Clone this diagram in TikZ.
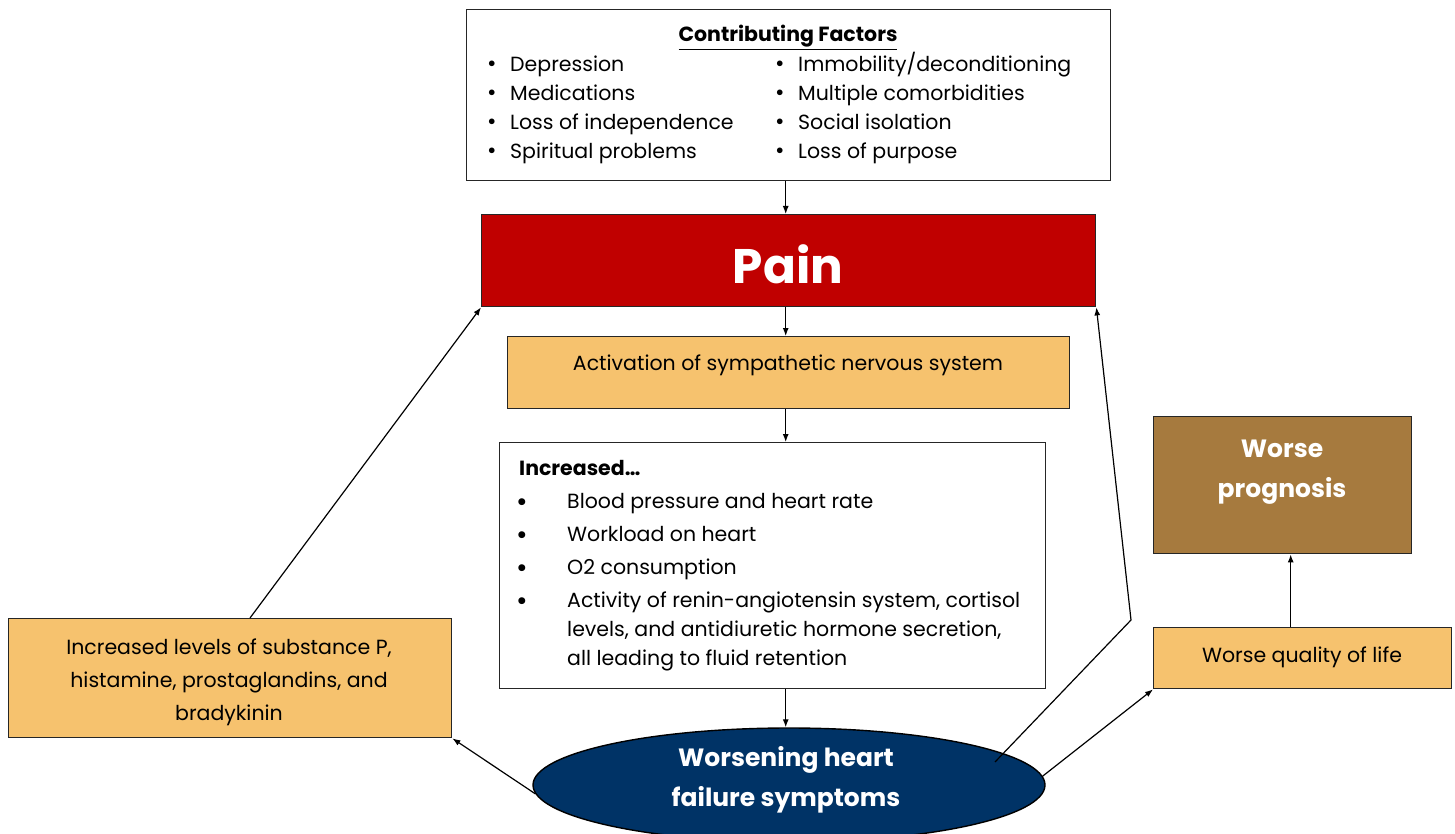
\documentclass[tikz,border=0pt]{standalone}
\usepackage{fontspec}
\setmainfont{Poppins}
\usetikzlibrary{shapes.geometric,arrows.meta,calc}
\definecolor{painred}{RGB}{192,0,0}
\definecolor{boxorange}{RGB}{246,194,110}
\definecolor{hfnavy}{RGB}{0,51,102}
\definecolor{progbrown}{RGB}{166,122,62}
\newcommand{\bodyfont}{\fontsize{20.5}{24}\selectfont}
\begin{document}
\begin{tikzpicture}[x=1pt,y=-1pt,
  box/.style={draw=black!85, line width=1.4pt, inner sep=0pt, anchor=north west},
  conn/.style={line width=1.2pt, -{Latex[length=8pt,width=6pt]}},
  txt/.style={font=\bodyfont, inner sep=0pt, anchor=base west},
  ctxt/.style={font=\bodyfont, inner sep=0pt, anchor=base},
  btxt/.style={font=\fontsize{25}{29}\selectfont\bfseries, text=white, inner sep=0pt, anchor=base}]
\useasboundingbox (0,0) rectangle (1455,834);
% boxes
\node[box, fill=white, minimum width=644pt, minimum height=171pt] (cf) at (466,9) {};
\node[box, fill=painred, minimum width=614pt, minimum height=92pt] (pain) at (481,214) {};
\node[box, fill=boxorange, minimum width=562pt, minimum height=72pt] (act) at (507,336) {};
\node[box, fill=white, minimum width=546pt, minimum height=246pt] (inc) at (499,442) {};
\node[box, fill=boxorange, minimum width=443pt, minimum height=119pt] (lft) at (8,618) {};
\node[box, fill=boxorange, minimum width=298pt, minimum height=61pt] (qol) at (1153,627) {};
\node[box, fill=progbrown, minimum width=258pt, minimum height=137pt] (prog) at (1153,416) {};
\node[draw=black, line width=1.4pt, fill=hfnavy, ellipse, minimum width=512pt, minimum height=114pt, inner sep=0pt] (hf) at (789,785) {};
% contributing factors text
\node[ctxt, font=\bodyfont\bfseries] (cftitle) at (788,42) {\underline{Contributing Factors}};
\node[txt, font=\fontsize{23}{24}\selectfont] (b1) at (487,72) {\textbullet};
\node[txt, font=\fontsize{23}{24}\selectfont] (b2) at (487,101) {\textbullet};
\node[txt, font=\fontsize{23}{24}\selectfont] (b3) at (487,130) {\textbullet};
\node[txt, font=\fontsize{23}{24}\selectfont] (b4) at (487,159) {\textbullet};
\node[txt, font=\fontsize{23}{24}\selectfont] (b5) at (775,72) {\textbullet};
\node[txt, font=\fontsize{23}{24}\selectfont] (b6) at (775,101) {\textbullet};
\node[txt, font=\fontsize{23}{24}\selectfont] (b7) at (775,130) {\textbullet};
\node[txt, font=\fontsize{23}{24}\selectfont] (b8) at (775,159) {\textbullet};
\node[txt] (f1) at (510,72) {Depression};
\node[txt] (f2) at (510,101) {Medications};
\node[txt] (f3) at (510,130) {Loss of independence};
\node[txt] (f4) at (510,159) {Spiritual problems};
\node[txt] (f5) at (798,72) {Immobility/deconditioning};
\node[txt] (f6) at (798,101) {Multiple comorbidities};
\node[txt] (f7) at (798,130) {Social isolation};
\node[txt] (f8) at (798,159) {Loss of purpose};
% pain
\node[inner sep=0pt, anchor=base, text=white, font=\fontsize{48.5}{56}\selectfont\bfseries] (paintxt) at (788,283) {Pain};
% activation
\node[ctxt] (acttxt) at (788,370) {Activation of sympathetic nervous system};
% increased
\node[txt, font=\bodyfont\bfseries] (inctitle) at (519,475) {Increased…};
\node[txt, font=\fontsize{28}{28}\selectfont] (ib1) at (516,511) {\textbullet};
\node[txt, font=\fontsize{28}{28}\selectfont] (ib2) at (516,544) {\textbullet};
\node[txt, font=\fontsize{28}{28}\selectfont] (ib3) at (516,577) {\textbullet};
\node[txt, font=\fontsize{28}{28}\selectfont] (ib4) at (516,610) {\textbullet};
\node[txt] (i1) at (567,508) {Blood pressure and heart rate};
\node[txt] (i2) at (567,541) {Workload on heart};
\node[txt] (i3) at (567,574) {O2 consumption};
\node[txt] (i4) at (567,607) {Activity of renin-angiotensin system, cortisol};
\node[txt] (i5) at (567,636) {levels, and antidiuretic hormone secretion,};
\node[txt] (i6) at (567,665) {all leading to fluid retention};
% left box
\node[ctxt] (l1) at (229,654) {Increased levels of substance P,};
\node[ctxt] (l2) at (229,687) {histamine, prostaglandins, and};
\node[ctxt] (l3) at (229,720) {bradykinin};
% quality of life
\node[ctxt] (qoltxt) at (1302,662) {Worse quality of life};
% prognosis
\node[btxt] (p1) at (1282,457) {Worse};
\node[btxt] (p2) at (1282,497) {prognosis};
% heart failure
\node[btxt] (h1) at (786,766) {Worsening heart};
\node[btxt] (h2) at (786,806) {failure symptoms};
% connectors
\coordinate (lftTop) at (250,618);
\coordinate (hfR) at (995,762);
\coordinate (bend) at (1131,620);
\draw[conn] ($(cf.south)+(-3,0)$) -- ($(pain.north)+(-3,0)$);
\draw[conn] ($(pain.south)+(-3,0)$) -- ($(act.north)+(-3,0)$);
\draw[conn] ($(act.south)+(-3,0)$) -- ($(act.south |- inc.north)+(-3,0)$);
\draw[conn] ($(inc.south)+(13,0)$) -- ($(inc.south |- hf.north)+(13,0)$);
\draw[conn] (hf.182) -- (lft.south east);
\draw[conn] (lftTop) -- (pain.south west);
\draw[conn] (hfR) -- (bend) -- (pain.south east);
\draw[conn] (hf.2) -- (qol.south west);
\draw[conn] ($(qol.north)+(-12,0)$) -- ($(prog.south)+(8,0)$);
\end{tikzpicture}
\end{document}
